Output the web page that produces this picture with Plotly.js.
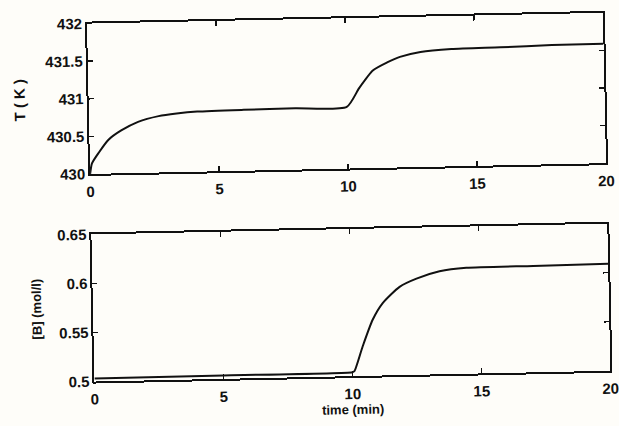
<!DOCTYPE html>
<html>
<head>
<meta charset="utf-8">
<script src="https://cdn.plot.ly/plotly-3.0.1.min.js"></script>
<style>
  html, body { margin: 0; padding: 0; background: #fefdf9; overflow: hidden; }
  #plot { width: 619px; height: 426px; transform: rotate(-1.2deg); transform-origin: 50% 50%; }
</style>
</head>
<body>
<div id="plot"></div>
<script>
// Reactor temperature response (minutes vs kelvin)
const timeT = [0, 0.08, 0.35, 0.74, 1.24, 1.9, 2.7, 3.4, 4.2, 6, 8, 10, 10.5, 11.05, 11.6, 12.1, 12.9, 14.1, 16, 18, 20];
const tempK = [430, 430.14, 430.28, 430.45, 430.57, 430.68, 430.75, 430.78, 430.80, 430.81, 430.815, 430.82, 431.07, 431.30, 431.40, 431.47, 431.53, 431.56, 431.57, 431.585, 431.59];

// Concentration of B (minutes vs mol/l)
const timeB = [0, 5, 10, 10.08, 10.42, 10.83, 11.24, 11.9, 12.56, 13.46, 14.5, 17.1, 20];
const concB = [0.503, 0.5035, 0.504, 0.505, 0.530, 0.557, 0.574, 0.590, 0.598, 0.605, 0.608, 0.6085, 0.609];

// Axis ticks
const timeTicks = [0, 5, 10, 15, 20];
const timeTickText = ['0', '5', '10', '15', '20'];
const tempTicks = [430, 430.5, 431, 431.5, 432];
const tempTickText = ['430', '430.5', '431', '431.5', '432'];
const concTicks = [0.5, 0.55, 0.6, 0.65];
const concTickText = ['0.5', '0.55', '0.6', '0.65'];

const ink = '#111111';
const fam = 'Liberation Sans, Arial, sans-serif';
const tickFont = { family: fam, size: 15, color: ink, weight: 'bold' };
const labelFont = { family: fam, size: 13, color: ink, weight: 'bold' };

function frameAxis(extra) {
  return Object.assign({
    showline: true, linecolor: ink, linewidth: 2, mirror: 'ticks',
    ticks: 'inside', ticklen: 5, tickwidth: 1.5, tickcolor: ink,
    showgrid: false, zeroline: false, tickfont: tickFont, fixedrange: true
  }, extra);
}

const traces = [
  { x: timeT, y: tempK, xaxis: 'x', yaxis: 'y', mode: 'lines',
    line: { color: ink, width: 2, shape: 'spline', smoothing: 0.6 }, hoverinfo: 'skip' },
  { x: timeB, y: concB, xaxis: 'x2', yaxis: 'y2', mode: 'lines',
    line: { color: ink, width: 2, shape: 'spline', smoothing: 0.6 }, hoverinfo: 'skip' }
];

const layout = {
  width: 619, height: 426,
  margin: { l: 91, r: 12, t: 19, b: 49 },
  paper_bgcolor: '#fefdf9', plot_bgcolor: '#fefdf9',
  showlegend: false,
  xaxis: frameAxis({ domain: [0, 1], range: [0, 20], anchor: 'y',
    tickvals: timeTicks, ticktext: timeTickText, ticklabelstandoff: 3 }),
  yaxis: frameAxis({ domain: [0.58, 1], range: [430, 432], anchor: 'x',
    tickvals: tempTicks, ticktext: tempTickText,
    title: { text: 'T ( K )', font: tickFont, standoff: 17 } }),
  xaxis2: frameAxis({ domain: [0, 1], range: [0, 20], anchor: 'y2',
    tickvals: timeTicks, ticktext: timeTickText, ticklabelstandoff: 3,
    title: { text: 'time (min)', font: labelFont, standoff: 1 } }),
  yaxis2: frameAxis({ domain: [0, 0.411], range: [0.5, 0.65], anchor: 'x2',
    tickvals: concTicks, ticktext: concTickText,
    title: { text: '[B] (mol/l)', font: labelFont, standoff: 14 } })
};

Plotly.newPlot('plot', traces, layout, { staticPlot: true, displayModeBar: false });
</script>
</body>
</html>
